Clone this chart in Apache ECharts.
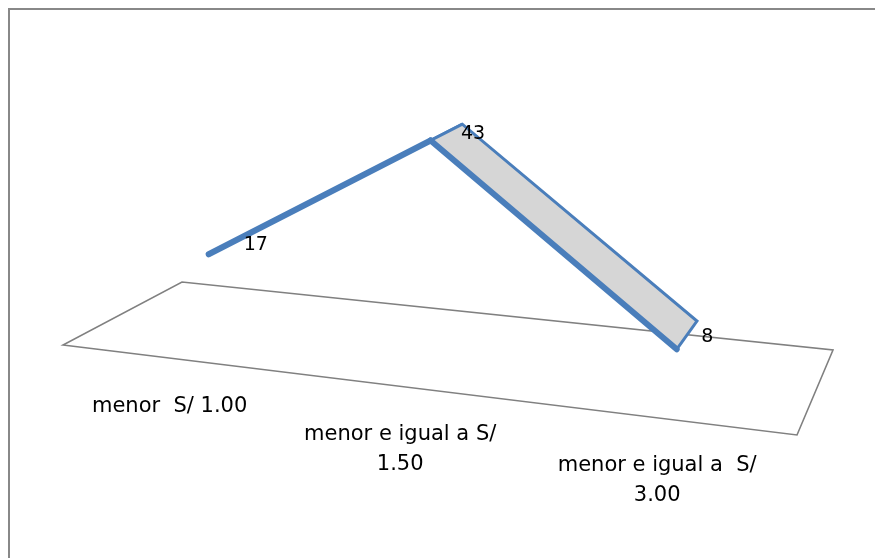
<!DOCTYPE html>
<html>
<head>
<meta charset="utf-8">
<script src="https://cdn.jsdelivr.net/npm/echarts@6/dist/echarts.min.js"></script>
<style>
  html, body { margin: 0; padding: 0; background: #ffffff; }
  #chart { width: 875px; height: 558px; }
</style>
</head>
<body>
<div id="chart"></div>
<script>
// Categories and values of the 3D line chart
const categories = ['menor  S/ 1.00', 'menor e igual a S/\n1.50', 'menor e igual a  S/\n3.00'];
const values = [17, 43, 8];
const valueAxisMax = 50;

// Perspective floor of the plot area (front-left, front-right, back-right, back-left)
const floorQuad = { fl: [63, 345], fr: [797, 435], br: [833, 350], bl: [182, 282] };
const ribbonFront = 0.33;   // ribbon front edge, fraction of floor depth
const ribbonBack = 0.71;    // ribbon back edge
const pxPerUnit = 5.05;     // vertical pixels per value unit
const liftOffset = -4.2;

const BLUE = '#4a7ebb';
const FACE = '#d6d6d6';
const FONT = '"DejaVu Sans", sans-serif';

// Unit square (u across, v into depth) -> floor quadrilateral
function makeHomography(q) {
  const [x0, y0] = q.fl, [x1, y1] = q.fr, [x2, y2] = q.br, [x3, y3] = q.bl;
  const dx1 = x1 - x2, dx2 = x3 - x2, dx3 = x0 - x1 + x2 - x3;
  const dy1 = y1 - y2, dy2 = y3 - y2, dy3 = y0 - y1 + y2 - y3;
  const det = dx1 * dy2 - dx2 * dy1;
  const g = (dx3 * dy2 - dx2 * dy3) / det;
  const h = (dx1 * dy3 - dx3 * dy1) / det;
  return {
    a: x1 - x0 + g * x1, b: x3 - x0 + h * x3, c: x0,
    d: y1 - y0 + g * y1, e: y3 - y0 + h * y3, f: y0, g, h
  };
}
const H = makeHomography(floorQuad);

// Project a point lying at (u, v) on the floor, lifted by `lift` pixels
function project(u, v, lift) {
  const w = H.g * u + H.h * v + 1;
  return [(H.a * u + H.b * v + H.c) / w, (H.d * u + H.e * v + H.f - lift) / w];
}

// Convert a data pair to floor fraction u and lift, through the cartesian scales
function toWorld(api, cs, idx, val) {
  const p = api.coord([idx, val]);
  return { u: (p[0] - cs.x) / cs.width, lift: cs.y + cs.height - p[1] + liftOffset };
}

const seriesData = values.map((v, i) => [i, v]);

const chart = echarts.init(document.getElementById('chart'), null, { renderer: 'canvas' });

chart.setOption({
  backgroundColor: '#ffffff',
  animation: false,
  grid: { left: 100, width: 600, top: 40, height: valueAxisMax * pxPerUnit },
  xAxis: { type: 'category', data: categories, boundaryGap: true, show: false },
  yAxis: { type: 'value', min: 0, max: valueAxisMax, show: false },
  graphic: [{
    type: 'rect',
    shape: { x: 9, y: 9, width: 900, height: 600 },
    style: { fill: 'none', stroke: '#888888', lineWidth: 2 },
    silent: true
  }],
  series: [
    {
      // floor of the plot area, spanning the whole category band
      type: 'custom',
      z: 1,
      silent: true,
      data: [[0, 0]],
      renderItem() {
        const pts = [project(0, 0, 0), project(1, 0, 0), project(1, 1, 0), project(0, 1, 0)];
        return {
          type: 'polygon',
          shape: { points: pts },
          style: { fill: 'none', stroke: '#808080', lineWidth: 1.6 }
        };
      }
    },
    {
      // line ribbon
      type: 'custom',
      z: 2,
      silent: true,
      data: seriesData,
      renderItem(params, api) {
        const cs = params.coordSys;
        const i = params.dataIndex;
        if (i >= values.length - 1) return { type: 'group', children: [] };
        const a = toWorld(api, cs, api.value(0), api.value(1));
        const b = toWorld(api, cs, i + 1, values[i + 1]);
        const f0 = project(a.u, ribbonFront, a.lift);
        const b0 = project(a.u, ribbonBack, a.lift);
        const f1 = project(b.u, ribbonFront, b.lift);
        const b1 = project(b.u, ribbonBack, b.lift);
        return {
          type: 'group',
          children: [
            {
              type: 'polygon',
              shape: { points: [f0, f1, b1, b0] },
              style: { fill: FACE, stroke: BLUE, lineWidth: 3, lineJoin: 'miter' }
            },
            {
              type: 'line',
              shape: { x1: f0[0], y1: f0[1], x2: f1[0], y2: f1[1] },
              style: { stroke: BLUE, lineWidth: 6, lineCap: 'round' }
            }
          ]
        };
      }
    },
    {
      // value labels and category labels
      type: 'custom',
      z: 3,
      silent: true,
      data: seriesData,
      renderItem(params, api) {
        const cs = params.coordSys;
        const i = params.dataIndex;
        const p = toWorld(api, cs, api.value(0), api.value(1));
        const mid = project(p.u, (ribbonFront + ribbonBack) / 2, p.lift);
        const base = project(p.u, 0, 0);
        return {
          type: 'group',
          children: [
            {
              type: 'text',
              style: {
                x: mid[0] + 14, y: mid[1] + 2,
                text: String(api.value(1)),
                font: '19px ' + FONT,
                fill: '#000000',
                align: 'left', verticalAlign: 'middle'
              }
            },
            {
              type: 'text',
              style: {
                x: base[0], y: base[1] + 33,
                text: categories[i],
                font: '21px ' + FONT,
                lineHeight: 30,
                fill: '#000000',
                align: 'center', verticalAlign: 'top'
              }
            }
          ]
        };
      }
    }
  ]
});
</script>
</body>
</html>
